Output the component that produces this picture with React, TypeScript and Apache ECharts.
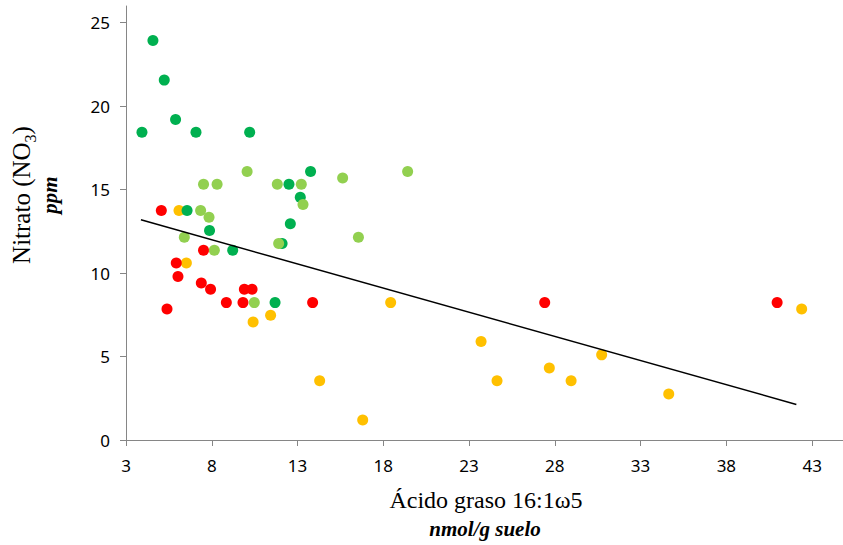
import React, { useEffect, useRef } from "react";
import * as echarts from "echarts";

const darkGreen: number[][] = [
  [3.93, 18.43], [4.57, 23.93], [5.23, 21.56], [5.89, 19.2], [7.08, 18.43],
  [10.21, 18.43], [12.5, 15.32], [13.16, 14.54], [6.56, 13.75], [7.87, 12.55],
  [9.22, 11.37], [11.69, 8.23], [12.1, 11.77], [12.58, 12.95], [13.76, 16.08],
];
const lightGreen: number[][] = [
  [10.06, 16.08], [7.52, 15.32], [8.31, 15.32], [11.82, 15.32], [13.22, 15.32],
  [7.35, 13.75], [7.84, 13.35], [6.4, 12.15], [8.15, 11.37], [10.48, 8.23],
  [11.9, 11.77], [13.32, 14.11], [15.63, 15.7], [19.42, 16.08], [16.55, 12.15],
];
const red: number[][] = [
  [5.06, 13.75], [7.52, 11.37], [5.93, 10.6], [6.03, 9.8], [7.39, 9.4],
  [7.93, 9.03], [9.9, 9.03], [10.35, 9.03], [8.85, 8.23], [9.82, 8.23],
  [13.88, 8.23], [5.39, 7.85], [27.41, 8.23], [40.96, 8.23],
];
const orange: number[][] = [
  [6.09, 13.75], [6.52, 10.6], [10.41, 7.07], [11.43, 7.47], [18.43, 8.23],
  [14.29, 3.55], [16.8, 1.2], [23.7, 5.9], [24.63, 3.55], [27.68, 4.32],
  [28.95, 3.55], [30.73, 5.1], [34.64, 2.75], [42.39, 7.85],
];
const trendLine: number[][] = [
  [3.87, 13.19], [42.08, 2.13],
];
const xTicks = [3, 8, 13, 18, 23, 28, 33, 38, 43];
const yTicks = [0, 5, 10, 15, 20, 25];

const W = 843;
const H = 545;

export default function App() {
  const ref = useRef<HTMLDivElement>(null);
  useEffect(() => {
    if (!ref.current) return;
    const chart = echarts.init(ref.current, undefined, { renderer: "svg" });
    const axisColor = "#868686";
    const labelFont = {
      fontFamily: "Noto Sans",
      fontSize: 17,
      color: "#000",
    };
    const sc = (name: string, data: number[][], color: string) => ({
      name,
      type: "scatter",
      data,
      symbol: "circle",
      symbolSize: 11,
      itemStyle: { color, opacity: 1 },
      emphasis: { disabled: true },
    });
    chart.setOption({
      animation: false,
      backgroundColor: "#fff",
      grid: { left: 126, right: 0, top: 6, bottom: 105, containLabel: false },
      xAxis: {
        type: "value",
        min: 3,
        max: 44.8,
        interval: 5,
        axisLine: { show: true, lineStyle: { color: axisColor, width: 1 } },
        axisTick: { show: true, length: 6, lineStyle: { color: axisColor }, customValues: xTicks },
        axisLabel: { ...labelFont, margin: 17, customValues: xTicks },
        splitLine: { show: false },
      },
      yAxis: {
        type: "value",
        min: 0,
        max: 26,
        interval: 5,
        axisLine: { show: true, lineStyle: { color: axisColor, width: 1 } },
        axisTick: { show: true, length: 6, lineStyle: { color: axisColor }, customValues: yTicks },
        axisLabel: { ...labelFont, margin: 16, customValues: yTicks },
        splitLine: { show: false },
      },
      series: [
        sc("orange", orange, "#FFC000"),
        sc("red", red, "#FF0000"),
        sc("darkGreen", darkGreen, "#00B050"),
        sc("lightGreen", lightGreen, "#92D050"),
        {
          name: "trend",
          type: "line",
          data: trendLine,
          symbol: "none",
          lineStyle: { color: "#000", width: 1.5 },
          emphasis: { disabled: true },
          z: 5,
        },
      ],
      graphic: [
        {
          type: "text",
          x: 21,
          y: 195,
          rotation: Math.PI / 2,
          style: {
            text: "Nitrato (NO{sub|3})",
            fontFamily: "Liberation Serif",
            fontSize: 25,
            fill: "#000",
            align: "center",
            verticalAlign: "middle",
            rich: {
              sub: {
                fontFamily: "Liberation Serif",
                fontSize: 16,
                verticalAlign: "bottom",
                lineHeight: 34,
                padding: [12, 0, 0, 0],
              },
            },
          },
        },
        {
          type: "text",
          x: 50,
          y: 195,
          rotation: Math.PI / 2,
          style: {
            text: "ppm",
            fontFamily: "Liberation Serif",
            fontSize: 21,
            fontWeight: "bold",
            fontStyle: "italic",
            fill: "#000",
            align: "center",
            verticalAlign: "middle",
          },
        },
        {
          type: "text",
          x: 486,
          y: 500,
          style: {
            text: "Ácido graso 16:1ω5",
            fontFamily: "Liberation Serif",
            fontSize: 24,
            fill: "#000",
            align: "center",
            verticalAlign: "middle",
          },
        },
        {
          type: "text",
          x: 485,
          y: 529,
          style: {
            text: "nmol/g suelo",
            fontFamily: "Liberation Serif",
            fontSize: 21,
            fontWeight: "bold",
            fontStyle: "italic",
            fill: "#000",
            align: "center",
            verticalAlign: "middle",
          },
        },
      ],
    });
    return () => chart.dispose();
  }, []);
  return (
    <div
      ref={ref}
      style={{ position: "fixed", left: 0, top: 0, width: W, height: H }}
    />
  );
}
